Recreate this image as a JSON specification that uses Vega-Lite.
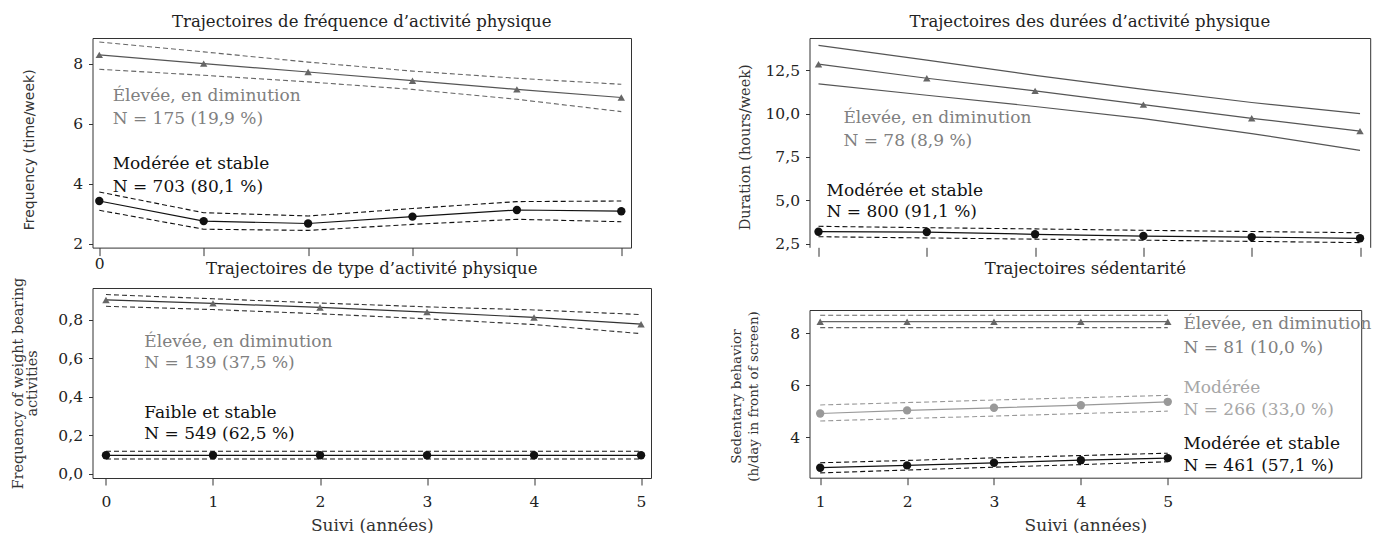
{
  "$schema": "https://vega.github.io/schema/vega-lite/v6.json",
  "padding": {"left": 9.5, "top": 13, "right": 0, "bottom": 0},
  "background": "white",
  "columns": 2,
  "align": {"row": "none", "column": "each"},
  "spacing": {"row": -13, "column": 77},
  "config": {
    "view": {"stroke": "#333333", "strokeWidth": 1},
    "axis": {"domain": false, "grid": false, "tickColor": "#333333", "domainColor": "#333333", "labelFont": "DejaVu Serif", "labelFontSize": 15.5, "labelColor": "#222222", "titleFont": "DejaVu Serif", "titleFontWeight": "normal", "titleColor": "#333333"},
    "title": {"font": "DejaVu Serif", "fontSize": 16.5, "fontWeight": "normal", "color": "#222222", "anchor": "middle"}
  },
  "datasets": {
    "freq": [
      {"group": "eleve", "kind": "mean", "x": 0, "y": 8.29}, {"group": "eleve", "kind": "mean", "x": 1, "y": 8.0}, {"group": "eleve", "kind": "mean", "x": 2, "y": 7.72}, {"group": "eleve", "kind": "mean", "x": 3, "y": 7.43}, {"group": "eleve", "kind": "mean", "x": 4, "y": 7.14}, {"group": "eleve", "kind": "mean", "x": 5, "y": 6.87},
      {"group": "eleve", "kind": "upper", "x": 0, "y": 8.72}, {"group": "eleve", "kind": "upper", "x": 1, "y": 8.39}, {"group": "eleve", "kind": "upper", "x": 2, "y": 8.05}, {"group": "eleve", "kind": "upper", "x": 3, "y": 7.75}, {"group": "eleve", "kind": "upper", "x": 4, "y": 7.51}, {"group": "eleve", "kind": "upper", "x": 5, "y": 7.31},
      {"group": "eleve", "kind": "lower", "x": 0, "y": 7.81}, {"group": "eleve", "kind": "lower", "x": 1, "y": 7.61}, {"group": "eleve", "kind": "lower", "x": 2, "y": 7.39}, {"group": "eleve", "kind": "lower", "x": 3, "y": 7.14}, {"group": "eleve", "kind": "lower", "x": 4, "y": 6.81}, {"group": "eleve", "kind": "lower", "x": 5, "y": 6.40},
      {"group": "stable", "kind": "mean", "x": 0, "y": 3.42}, {"group": "stable", "kind": "mean", "x": 1, "y": 2.75}, {"group": "stable", "kind": "mean", "x": 2, "y": 2.67}, {"group": "stable", "kind": "mean", "x": 3, "y": 2.90}, {"group": "stable", "kind": "mean", "x": 4, "y": 3.12}, {"group": "stable", "kind": "mean", "x": 5, "y": 3.08},
      {"group": "stable", "kind": "upper", "x": 0, "y": 3.72}, {"group": "stable", "kind": "upper", "x": 1, "y": 3.03}, {"group": "stable", "kind": "upper", "x": 2, "y": 2.92}, {"group": "stable", "kind": "upper", "x": 3, "y": 3.17}, {"group": "stable", "kind": "upper", "x": 4, "y": 3.40}, {"group": "stable", "kind": "upper", "x": 5, "y": 3.42},
      {"group": "stable", "kind": "lower", "x": 0, "y": 3.11}, {"group": "stable", "kind": "lower", "x": 1, "y": 2.48}, {"group": "stable", "kind": "lower", "x": 2, "y": 2.44}, {"group": "stable", "kind": "lower", "x": 3, "y": 2.64}, {"group": "stable", "kind": "lower", "x": 4, "y": 2.81}, {"group": "stable", "kind": "lower", "x": 5, "y": 2.73},
      {"group": "eleve", "kind": "label", "x": 0.128, "y": 6.75, "label": "Élevée, en diminution"},
      {"group": "eleve", "kind": "label", "x": 0.128, "y": 5.98, "label": "N = 175 (19,9 %)"},
      {"group": "stable", "kind": "label", "x": 0.128, "y": 4.48, "label": "Modérée et stable"},
      {"group": "stable", "kind": "label", "x": 0.128, "y": 3.72, "label": "N = 703 (80,1 %)"}
    ],
    "duree": [
      {"group": "eleve", "kind": "mean", "x": 0, "y": 12.85}, {"group": "eleve", "kind": "mean", "x": 1, "y": 12.04}, {"group": "eleve", "kind": "mean", "x": 2, "y": 11.31}, {"group": "eleve", "kind": "mean", "x": 3, "y": 10.52}, {"group": "eleve", "kind": "mean", "x": 4, "y": 9.73}, {"group": "eleve", "kind": "mean", "x": 5, "y": 8.99},
      {"group": "eleve", "kind": "upper", "x": 0, "y": 13.94}, {"group": "eleve", "kind": "upper", "x": 1, "y": 13.08}, {"group": "eleve", "kind": "upper", "x": 2, "y": 12.21}, {"group": "eleve", "kind": "upper", "x": 3, "y": 11.40}, {"group": "eleve", "kind": "upper", "x": 4, "y": 10.64}, {"group": "eleve", "kind": "upper", "x": 5, "y": 10.00},
      {"group": "eleve", "kind": "lower", "x": 0, "y": 11.71}, {"group": "eleve", "kind": "lower", "x": 1, "y": 11.06}, {"group": "eleve", "kind": "lower", "x": 2, "y": 10.41}, {"group": "eleve", "kind": "lower", "x": 3, "y": 9.71}, {"group": "eleve", "kind": "lower", "x": 4, "y": 8.85}, {"group": "eleve", "kind": "lower", "x": 5, "y": 7.88},
      {"group": "stable", "kind": "mean", "x": 0, "y": 3.19}, {"group": "stable", "kind": "mean", "x": 1, "y": 3.17}, {"group": "stable", "kind": "mean", "x": 2, "y": 3.04}, {"group": "stable", "kind": "mean", "x": 3, "y": 2.94}, {"group": "stable", "kind": "mean", "x": 4, "y": 2.88}, {"group": "stable", "kind": "mean", "x": 5, "y": 2.81},
      {"group": "stable", "kind": "upper", "x": 0, "y": 3.50}, {"group": "stable", "kind": "upper", "x": 1, "y": 3.42}, {"group": "stable", "kind": "upper", "x": 2, "y": 3.35}, {"group": "stable", "kind": "upper", "x": 3, "y": 3.27}, {"group": "stable", "kind": "upper", "x": 4, "y": 3.20}, {"group": "stable", "kind": "upper", "x": 5, "y": 3.13},
      {"group": "stable", "kind": "lower", "x": 0, "y": 2.90}, {"group": "stable", "kind": "lower", "x": 1, "y": 2.83}, {"group": "stable", "kind": "lower", "x": 2, "y": 2.76}, {"group": "stable", "kind": "lower", "x": 3, "y": 2.70}, {"group": "stable", "kind": "lower", "x": 4, "y": 2.63}, {"group": "stable", "kind": "lower", "x": 5, "y": 2.56},
      {"group": "eleve", "kind": "label", "x": 0.23, "y": 9.44, "label": "Élevée, en diminution"},
      {"group": "eleve", "kind": "label", "x": 0.23, "y": 8.13, "label": "N = 78 (8,9 %)"},
      {"group": "stable", "kind": "label", "x": 0.074, "y": 5.25, "label": "Modérée et stable"},
      {"group": "stable", "kind": "label", "x": 0.074, "y": 4.06, "label": "N = 800 (91,1 %)"}
    ],
    "type": [
      {"group": "eleve", "kind": "mean", "x": 0, "y": 0.902}, {"group": "eleve", "kind": "mean", "x": 1, "y": 0.884}, {"group": "eleve", "kind": "mean", "x": 2, "y": 0.863}, {"group": "eleve", "kind": "mean", "x": 3, "y": 0.839}, {"group": "eleve", "kind": "mean", "x": 4, "y": 0.811}, {"group": "eleve", "kind": "mean", "x": 5, "y": 0.776},
      {"group": "eleve", "kind": "upper", "x": 0, "y": 0.930}, {"group": "eleve", "kind": "upper", "x": 1, "y": 0.908}, {"group": "eleve", "kind": "upper", "x": 2, "y": 0.886}, {"group": "eleve", "kind": "upper", "x": 3, "y": 0.866}, {"group": "eleve", "kind": "upper", "x": 4, "y": 0.850}, {"group": "eleve", "kind": "upper", "x": 5, "y": 0.826},
      {"group": "eleve", "kind": "lower", "x": 0, "y": 0.869}, {"group": "eleve", "kind": "lower", "x": 1, "y": 0.852}, {"group": "eleve", "kind": "lower", "x": 2, "y": 0.830}, {"group": "eleve", "kind": "lower", "x": 3, "y": 0.804}, {"group": "eleve", "kind": "lower", "x": 4, "y": 0.774}, {"group": "eleve", "kind": "lower", "x": 5, "y": 0.727},
      {"group": "stable", "kind": "mean", "x": 0, "y": 0.095}, {"group": "stable", "kind": "mean", "x": 1, "y": 0.095}, {"group": "stable", "kind": "mean", "x": 2, "y": 0.095}, {"group": "stable", "kind": "mean", "x": 3, "y": 0.095}, {"group": "stable", "kind": "mean", "x": 4, "y": 0.095}, {"group": "stable", "kind": "mean", "x": 5, "y": 0.095},
      {"group": "stable", "kind": "upper", "x": 0, "y": 0.116}, {"group": "stable", "kind": "upper", "x": 1, "y": 0.116}, {"group": "stable", "kind": "upper", "x": 2, "y": 0.116}, {"group": "stable", "kind": "upper", "x": 3, "y": 0.116}, {"group": "stable", "kind": "upper", "x": 4, "y": 0.116}, {"group": "stable", "kind": "upper", "x": 5, "y": 0.116},
      {"group": "stable", "kind": "lower", "x": 0, "y": 0.076}, {"group": "stable", "kind": "lower", "x": 1, "y": 0.076}, {"group": "stable", "kind": "lower", "x": 2, "y": 0.076}, {"group": "stable", "kind": "lower", "x": 3, "y": 0.076}, {"group": "stable", "kind": "lower", "x": 4, "y": 0.076}, {"group": "stable", "kind": "lower", "x": 5, "y": 0.076},
      {"group": "eleve", "kind": "label", "x": 0.358, "y": 0.658, "label": "Élevée, en diminution"},
      {"group": "eleve", "kind": "label", "x": 0.358, "y": 0.549, "label": "N = 139 (37,5 %)"},
      {"group": "stable", "kind": "label", "x": 0.358, "y": 0.289, "label": "Faible et stable"},
      {"group": "stable", "kind": "label", "x": 0.358, "y": 0.180, "label": "N = 549 (62,5 %)"}
    ],
    "sedent": [
      {"group": "eleve", "kind": "mean", "x": 1, "y": 8.45}, {"group": "eleve", "kind": "mean", "x": 2, "y": 8.45}, {"group": "eleve", "kind": "mean", "x": 3, "y": 8.45}, {"group": "eleve", "kind": "mean", "x": 4, "y": 8.45}, {"group": "eleve", "kind": "mean", "x": 5, "y": 8.45},
      {"group": "eleve", "kind": "upper", "x": 1, "y": 8.70}, {"group": "eleve", "kind": "upper", "x": 2, "y": 8.70}, {"group": "eleve", "kind": "upper", "x": 3, "y": 8.70}, {"group": "eleve", "kind": "upper", "x": 4, "y": 8.70}, {"group": "eleve", "kind": "upper", "x": 5, "y": 8.70},
      {"group": "eleve", "kind": "lower", "x": 1, "y": 8.22}, {"group": "eleve", "kind": "lower", "x": 2, "y": 8.22}, {"group": "eleve", "kind": "lower", "x": 3, "y": 8.22}, {"group": "eleve", "kind": "lower", "x": 4, "y": 8.22}, {"group": "eleve", "kind": "lower", "x": 5, "y": 8.22},
      {"group": "moderee", "kind": "mean", "x": 1, "y": 4.91}, {"group": "moderee", "kind": "mean", "x": 2, "y": 5.03}, {"group": "moderee", "kind": "mean", "x": 3, "y": 5.13}, {"group": "moderee", "kind": "mean", "x": 4, "y": 5.23}, {"group": "moderee", "kind": "mean", "x": 5, "y": 5.36},
      {"group": "moderee", "kind": "upper", "x": 1, "y": 5.24}, {"group": "moderee", "kind": "upper", "x": 2, "y": 5.33}, {"group": "moderee", "kind": "upper", "x": 3, "y": 5.43}, {"group": "moderee", "kind": "upper", "x": 4, "y": 5.52}, {"group": "moderee", "kind": "upper", "x": 5, "y": 5.61},
      {"group": "moderee", "kind": "lower", "x": 1, "y": 4.62}, {"group": "moderee", "kind": "lower", "x": 2, "y": 4.72}, {"group": "moderee", "kind": "lower", "x": 3, "y": 4.81}, {"group": "moderee", "kind": "lower", "x": 4, "y": 4.91}, {"group": "moderee", "kind": "lower", "x": 5, "y": 5.00},
      {"group": "stable", "kind": "mean", "x": 1, "y": 2.82}, {"group": "stable", "kind": "mean", "x": 2, "y": 2.91}, {"group": "stable", "kind": "mean", "x": 3, "y": 3.01}, {"group": "stable", "kind": "mean", "x": 4, "y": 3.11}, {"group": "stable", "kind": "mean", "x": 5, "y": 3.19},
      {"group": "stable", "kind": "upper", "x": 1, "y": 3.01}, {"group": "stable", "kind": "upper", "x": 2, "y": 3.10}, {"group": "stable", "kind": "upper", "x": 3, "y": 3.20}, {"group": "stable", "kind": "upper", "x": 4, "y": 3.29}, {"group": "stable", "kind": "upper", "x": 5, "y": 3.38},
      {"group": "stable", "kind": "lower", "x": 1, "y": 2.62}, {"group": "stable", "kind": "lower", "x": 2, "y": 2.73}, {"group": "stable", "kind": "lower", "x": 3, "y": 2.84}, {"group": "stable", "kind": "lower", "x": 4, "y": 2.94}, {"group": "stable", "kind": "lower", "x": 5, "y": 3.05},
      {"group": "eleve", "kind": "label", "x": 5.18, "y": 8.15, "label": "Élevée, en diminution"},
      {"group": "eleve", "kind": "label", "x": 5.18, "y": 7.25, "label": "N = 81 (10,0 %)"},
      {"group": "moderee", "kind": "label", "x": 5.18, "y": 5.71, "label": "Modérée"},
      {"group": "moderee", "kind": "label", "x": 5.18, "y": 4.86, "label": "N = 266 (33,0 %)"},
      {"group": "stable", "kind": "label", "x": 5.18, "y": 3.53, "label": "Modérée et stable"},
      {"group": "stable", "kind": "label", "x": 5.18, "y": 2.70, "label": "N = 461 (57,1 %)"}
    ]
  },
  "concat": [
    {
      "width": 538.5, "height": 209.6,
      "title": {"text": "Trajectoires de fréquence d’activité physique", "offset": 7.2},
      "data": {"name": "freq"},
      "encoding": {
        "x": {"field": "x", "type": "quantitative", "scale": {"domain": [-0.065, 5.093], "nice": false, "zero": false}, "axis": {"values": [0, 1, 2, 3, 4, 5], "title": null, "labelExpr": "datum.value == 0 ? '0' : ''", "tickSize": 8, "labelPadding": 1}},
        "y": {"field": "y", "type": "quantitative", "scale": {"domain": [1.867, 8.853], "nice": false, "zero": false}, "axis": {"values": [2, 4, 6, 8], "title": "Frequency (time/week)", "titleFont": "DejaVu Sans", "titleFontSize": 14, "titleX": -70, "titleY": 111.3, "titleAngle": -90, "titleAlign": "center", "titleBaseline": "top", "tickSize": 4, "labelPadding": 6}}
      },
      "layer": [
        {"transform": [{"filter": "datum.kind === 'upper' || datum.kind === 'lower'"}], "mark": {"type": "line", "strokeDash": [5, 3], "strokeWidth": 1.1}, "encoding": {"detail": [{"field": "group"}, {"field": "kind"}], "color": {"condition": {"test": "datum.group === 'eleve'", "value": "#666666"}, "value": "#111111"}}},
        {"transform": [{"filter": "datum.kind === 'mean'"}], "mark": {"type": "line", "strokeWidth": 1.2}, "encoding": {"detail": {"field": "group"}, "color": {"condition": {"test": "datum.group === 'eleve'", "value": "#555555"}, "value": "#111111"}}},
        {"transform": [{"filter": "datum.kind === 'mean'"}], "mark": {"type": "point", "filled": true, "opacity": 1}, "encoding": {"shape": {"condition": {"test": "datum.group === 'eleve'", "value": "triangle-up"}, "value": "circle"}, "size": {"condition": {"test": "datum.group === 'eleve'", "value": 55}, "value": 70}, "color": {"condition": {"test": "datum.group === 'eleve'", "value": "#666666"}, "value": "#111111"}}},
        {"transform": [{"filter": "datum.kind === 'label'"}], "mark": {"type": "text", "align": "left", "baseline": "alphabetic", "font": "DejaVu Serif", "fontSize": 17}, "encoding": {"text": {"field": "label"}, "color": {"condition": {"test": "datum.group === 'eleve'", "value": "#808080"}, "value": "#111111"}}}
      ]
    },
    {
      "width": 560.7, "height": 209.3,
      "view": {"stroke": null},
      "title": {"text": "Trajectoires des durées d’activité physique", "offset": 7.2},
      "data": {"name": "duree"},
      "resolve": {"axis": {"x": "independent", "y": "independent"}},
      "layer": [
        {"transform": [{"filter": "datum.group === 'eleve' && datum.kind !== 'mean' && datum.kind !== 'label'"}], "mark": {"type": "line", "strokeWidth": 1.2, "color": "#555555"},
         "encoding": {
           "x": {"field": "x", "type": "quantitative", "scale": {"domain": [-0.083, 5.094], "nice": false, "zero": false}, "axis": {"values": [0, 1, 2, 3, 4, 5], "title": null, "labels": false, "tickSize": 9}},
           "y": {"field": "y", "type": "quantitative", "scale": {"domain": [2.29, 14.36], "nice": false, "zero": false}, "axis": {"domain": true, "values": [2.5, 5, 7.5, 10, 12.5], "labelExpr": "replace(format(datum.value, '.1f'), '.', ',')", "title": "Duration (hours/week)", "titleFontSize": 14.5, "titleX": -71.3, "titleY": 108.8, "titleAngle": -90, "titleAlign": "center", "titleBaseline": "top", "tickSize": 4, "labelPadding": 6}},
           "detail": {"field": "kind"}}},
        {"transform": [{"filter": "datum.group === 'stable' && (datum.kind === 'upper' || datum.kind === 'lower')"}], "mark": {"type": "line", "strokeDash": [5, 3], "strokeWidth": 1.1, "color": "#111111"},
         "encoding": {
           "x": {"field": "x", "type": "quantitative", "scale": {"domain": [-0.083, 5.094], "nice": false, "zero": false}, "axis": {"orient": "top", "domain": true, "ticks": false, "labels": false, "title": null}},
           "y": {"field": "y", "type": "quantitative", "scale": {"domain": [2.29, 14.36], "nice": false, "zero": false}, "axis": {"orient": "right", "domain": true, "ticks": false, "labels": false, "title": null}},
           "detail": {"field": "kind"}}},
        {"transform": [{"filter": "datum.kind === 'mean'"}], "mark": {"type": "line", "strokeWidth": 1.2},
         "encoding": {
           "x": {"field": "x", "type": "quantitative", "scale": {"domain": [-0.083, 5.094], "nice": false, "zero": false}, "axis": null},
           "y": {"field": "y", "type": "quantitative", "scale": {"domain": [2.29, 14.36], "nice": false, "zero": false}, "axis": null},
           "detail": {"field": "group"}, "color": {"condition": {"test": "datum.group === 'eleve'", "value": "#555555"}, "value": "#111111"}}},
        {"transform": [{"filter": "datum.kind === 'mean'"}], "mark": {"type": "point", "filled": true, "opacity": 1},
         "encoding": {
           "x": {"field": "x", "type": "quantitative", "scale": {"domain": [-0.083, 5.094], "nice": false, "zero": false}, "axis": null},
           "y": {"field": "y", "type": "quantitative", "scale": {"domain": [2.29, 14.36], "nice": false, "zero": false}, "axis": null},
           "shape": {"condition": {"test": "datum.group === 'eleve'", "value": "triangle-up"}, "value": "circle"}, "size": {"condition": {"test": "datum.group === 'eleve'", "value": 55}, "value": 70}, "color": {"condition": {"test": "datum.group === 'eleve'", "value": "#666666"}, "value": "#111111"}}},
        {"transform": [{"filter": "datum.kind === 'label'"}], "mark": {"type": "text", "align": "left", "baseline": "alphabetic", "font": "DejaVu Serif", "fontSize": 17},
         "encoding": {
           "x": {"field": "x", "type": "quantitative", "scale": {"domain": [-0.083, 5.094], "nice": false, "zero": false}, "axis": null},
           "y": {"field": "y", "type": "quantitative", "scale": {"domain": [2.29, 14.36], "nice": false, "zero": false}, "axis": null},
           "text": {"field": "label"}, "color": {"condition": {"test": "datum.group === 'eleve'", "value": "#808080"}, "value": "#111111"}}}
      ]
    },
    {
      "width": 558.5, "height": 190,
      "title": {"text": "Trajectoires de type d’activité physique", "offset": 0.2},
      "data": {"name": "type"},
      "encoding": {
        "x": {"field": "x", "type": "quantitative", "scale": {"domain": [-0.126, 5.093], "nice": false, "zero": false}, "axis": {"values": [0, 1, 2, 3, 4, 5], "format": "d", "title": "Suivi (années)", "titleFontSize": 17, "titleBaseline": "top", "titleY": 39.5, "tickSize": 7, "labelPadding": 9.6}},
        "y": {"field": "y", "type": "quantitative", "scale": {"domain": [-0.023, 0.964], "nice": false, "zero": false}, "axis": {"values": [0, 0.2, 0.4, 0.6, 0.8], "labelExpr": "replace(format(datum.value, '.1f'), '.', ',')", "title": ["Frequency of weight bearing", "activities"], "titleFontSize": 14.4, "titleLineHeight": 14.3, "titleX": -81.2, "titleY": 95, "titleAngle": -90, "titleAlign": "center", "titleBaseline": "top", "tickSize": 4, "labelPadding": 6}}
      },
      "layer": [
        {"transform": [{"filter": "datum.kind === 'upper' || datum.kind === 'lower'"}], "mark": {"type": "line", "strokeDash": [5, 3], "strokeWidth": 1.1}, "encoding": {"detail": [{"field": "group"}, {"field": "kind"}], "color": {"condition": {"test": "datum.group === 'eleve'", "value": "#333333"}, "value": "#111111"}}},
        {"transform": [{"filter": "datum.kind === 'mean'"}], "mark": {"type": "line", "strokeWidth": 1.2}, "encoding": {"detail": {"field": "group"}, "color": {"condition": {"test": "datum.group === 'eleve'", "value": "#333333"}, "value": "#111111"}}},
        {"transform": [{"filter": "datum.kind === 'mean'"}], "mark": {"type": "point", "filled": true, "opacity": 1}, "encoding": {"shape": {"condition": {"test": "datum.group === 'eleve'", "value": "triangle-up"}, "value": "circle"}, "size": {"condition": {"test": "datum.group === 'eleve'", "value": 55}, "value": 70}, "color": {"condition": {"test": "datum.group === 'eleve'", "value": "#666666"}, "value": "#111111"}}},
        {"transform": [{"filter": "datum.kind === 'label'"}], "mark": {"type": "text", "align": "left", "baseline": "alphabetic", "font": "DejaVu Serif", "fontSize": 17}, "encoding": {"text": {"field": "label"}, "color": {"condition": {"test": "datum.group === 'eleve'", "value": "#808080"}, "value": "#111111"}}}
      ]
    },
    {
      "width": 551.7, "height": 167.7,
      "title": {"text": "Trajectoires sédentarité", "offset": 32.8},
      "data": {"name": "sedent"},
      "encoding": {
        "x": {"field": "x", "type": "quantitative", "scale": {"domain": [0.877, 7.226], "nice": false, "zero": false}, "axis": {"values": [1, 2, 3, 4, 5], "format": "d", "title": "Suivi (années)", "titleFontSize": 17, "titleBaseline": "top", "titleY": 39.5, "tickSize": 7, "labelPadding": 9.6}},
        "y": {"field": "y", "type": "quantitative", "scale": {"domain": [2.435, 8.9], "nice": false, "zero": false}, "axis": {"values": [4, 6, 8], "format": "d", "title": ["Sedentary behavior", "(h/day in front of screen)"], "titleFontSize": 13.5, "titleLineHeight": 17, "titleX": -80.2, "titleY": 86, "titleAngle": -90, "titleAlign": "center", "titleBaseline": "top", "tickSize": 4, "labelPadding": 6}}
      },
      "layer": [
        {"transform": [{"filter": "datum.kind === 'upper' || datum.kind === 'lower'"}], "mark": {"type": "line", "strokeDash": [5, 3], "strokeWidth": 1.1}, "encoding": {"detail": [{"field": "group"}, {"field": "kind"}], "color": {"condition": [{"test": "datum.group === 'eleve'", "value": "#666666"}, {"test": "datum.group === 'moderee'", "value": "#999999"}], "value": "#111111"}}},
        {"transform": [{"filter": "datum.kind === 'mean'"}], "mark": {"type": "line", "strokeWidth": 1.2}, "encoding": {"detail": {"field": "group"}, "color": {"condition": [{"test": "datum.group === 'eleve'", "value": "#666666"}, {"test": "datum.group === 'moderee'", "value": "#999999"}], "value": "#111111"}}},
        {"transform": [{"filter": "datum.kind === 'mean'"}], "mark": {"type": "point", "filled": true, "opacity": 1}, "encoding": {"shape": {"condition": {"test": "datum.group === 'eleve'", "value": "triangle-up"}, "value": "circle"}, "size": {"condition": {"test": "datum.group === 'eleve'", "value": 55}, "value": 70}, "color": {"condition": [{"test": "datum.group === 'eleve'", "value": "#666666"}, {"test": "datum.group === 'moderee'", "value": "#999999"}], "value": "#111111"}}},
        {"transform": [{"filter": "datum.kind === 'label'"}], "mark": {"type": "text", "align": "left", "baseline": "alphabetic", "font": "DejaVu Serif", "fontSize": 17}, "encoding": {"text": {"field": "label"}, "color": {"condition": [{"test": "datum.group === 'eleve'", "value": "#808080"}, {"test": "datum.group === 'moderee'", "value": "#a6a6a6"}], "value": "#111111"}}}
      ]
    }
  ]
}
